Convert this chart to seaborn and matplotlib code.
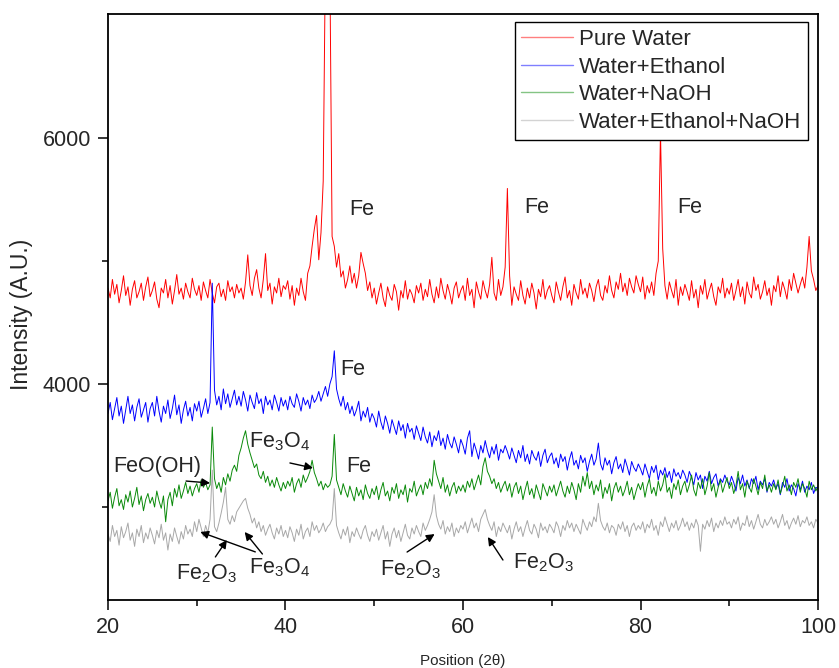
import numpy as np
import pandas as pd
import matplotlib.pyplot as plt
import seaborn as sns

# XRD scans, 2theta from 20 to 100 in 0.25 steps (321 points)
two_theta = np.linspace(20, 100, 321)

pure_water = [
    4780, 4700, 4850, 4730, 4810, 4660, 4760, 4880, 4720, 4790, 4640, 4770, 4840, 4700, 4750, 4820, 4680, 4790, 4870, 4710,
    4760, 4830, 4690, 4620, 4780, 4740, 4850, 4700, 4800, 4650, 4760, 4890, 4730, 4780, 4690, 4820, 4750, 4700, 4860, 4770,
    4720, 4800, 4680, 4830, 4760, 4700, 4850, 4740, 4660, 4790, 4820, 4710, 4770, 4680, 4840, 4750, 4790, 4700, 4810, 4740,
    4780, 4690, 4830, 5050, 4800, 4720, 4860, 4930, 4780, 4700, 4850, 5060, 4760, 4820, 4650, 4790, 4740, 4860, 4710, 4800,
    4770, 4840, 4690, 4800, 4640, 4780, 4720, 4860, 4750, 4680, 4900, 4960, 5120, 5260, 5370, 5010, 5230, 5650, 7500, 8600,
    7400, 5200, 5120, 4950, 5060, 4870, 4920, 4780, 4850, 4960, 4820, 4900, 4780, 4880, 5070, 4980, 4900, 4760, 4830, 4700,
    4780, 4650, 4740, 4820, 4700, 4630, 4790, 4720, 4680, 4810, 4750, 4600, 4760, 4700, 4840, 4690, 4770, 4730, 4660, 4800,
    4740, 4820, 4680, 4770, 4710, 4850, 4730, 4660, 4790, 4700, 4860, 4760, 4690, 4810, 4740, 4650, 4780, 4830, 4700, 4760,
    4800, 4680, 4860, 4720, 4770, 4620, 4830, 4750, 4690, 4840, 4760, 4700, 4810, 5030, 4740, 4680, 4850, 4720, 4790, 4950,
    5590, 4880, 4640, 4790, 4730, 4680, 4840, 4720, 4650, 4780, 4700, 4820, 4740, 4610, 4770, 4710, 4850, 4690, 4760, 4800,
    4720, 4660, 4830, 4750, 4680, 4790, 4870, 4700, 4760, 4640, 4810, 4740, 4690, 4850, 4730, 4780, 4700, 4820, 4760, 4670,
    4790, 4850, 4720, 4680, 4800, 4740, 4880, 4760, 4700, 4830, 4770, 4900, 4750, 4820, 4720, 4860, 4790, 4740, 4880, 4810,
    4750, 4870, 4690, 4800, 4740, 4830, 4720, 4900, 5000, 6050, 5100, 4800, 4690, 4830, 4760, 4700, 4850, 4640, 4790, 4720,
    4810, 4750, 4680, 4840, 4700, 4770, 4620, 4800, 4730, 4850, 4690, 4760, 4820, 4710, 4640, 4790, 4740, 4860, 4700, 4780,
    4730, 4820, 4680, 4760, 4850, 4710, 4790, 4650, 4830, 4740, 4700, 4870, 4760, 4810, 4690, 4750, 4840, 4720, 4780, 4640,
    4800, 4750, 4880, 4710, 4830, 4770, 4690, 4850, 4760, 4900, 4820, 4740, 4810, 4870, 4780, 4950, 5200, 4920, 4850, 4760,
    4800,
]

water_ethanol = [
    3760, 3850, 3710, 3800, 3890, 3740, 3820, 3680, 3790, 3900, 3760, 3830, 3700, 3810, 3880, 3730, 3790, 3850, 3690, 3800,
    3850, 3740, 3900, 3780, 3690, 3820, 3760, 3870, 3720, 3800, 3910, 3750, 3830, 3680, 3790, 3860, 3740, 3810, 3700, 3840,
    3780, 3860, 3730, 3800, 3880, 3760, 3850, 4820, 3950, 3830, 3900, 3790, 3960, 3840, 3920, 3810, 3880, 3950, 3830, 3900,
    3820, 3940, 3870, 3780, 3910, 3850, 3800, 3930, 3840, 3880, 3760, 3900, 3830, 3870, 3790, 3910, 3850, 3780, 3890, 3820,
    3870, 3790, 3900, 3840, 3810, 3920, 3860, 3780, 3890, 3830, 3870, 3800, 3910, 3850, 3880, 3940, 3860, 3920, 3980, 3900,
    4000, 4060, 4270, 3960, 3880, 3820, 3900, 3790, 3850, 3760, 3820, 3740, 3790, 3860, 3700, 3780, 3730, 3810, 3690, 3760,
    3720, 3650, 3780, 3690, 3630, 3740, 3680, 3600, 3710, 3650, 3590, 3700, 3620, 3670, 3560, 3680, 3610, 3640, 3550, 3660,
    3600, 3540, 3650, 3570, 3520, 3610, 3490, 3580, 3540, 3620, 3500, 3560, 3470, 3590, 3520, 3480, 3570, 3510, 3440, 3550,
    3500, 3430, 3560, 3620, 3410, 3520, 3460, 3390, 3500, 3440, 3540, 3460, 3400, 3490, 3430, 3510, 3380, 3470, 3440, 3500,
    3450, 3390, 3480, 3420, 3360, 3460, 3400, 3500, 3370, 3430, 3350, 3460, 3410, 3380, 3450, 3330, 3420, 3470, 3360, 3410,
    3440, 3350, 3400, 3320, 3430, 3370, 3410, 3300, 3390, 3450, 3340, 3380, 3310, 3420, 3360, 3400, 3290, 3370, 3430, 3340,
    3390, 3520, 3350, 3300, 3400, 3340, 3380, 3270, 3360, 3410, 3310, 3350, 3280, 3390, 3330, 3260, 3370, 3320, 3290, 3350,
    3310, 3260, 3350, 3290, 3230, 3330, 3280, 3340, 3220, 3300, 3260, 3320, 3240, 3290, 3200, 3310, 3250, 3280, 3230, 3300,
    3260, 3200, 3290, 3240, 3180, 3280, 3220, 3260, 3150, 3250, 3210, 3290, 3190, 3240, 3270, 3170, 3230, 3200, 3260, 3210,
    3180, 3250, 3200, 3130, 3240, 3190, 3260, 3170, 3220, 3150, 3230, 3190, 3250, 3140, 3210, 3180, 3230, 3120, 3200, 3170,
    3220, 3150, 3190, 3100, 3200, 3160, 3230, 3130, 3180, 3150, 3090, 3190, 3140, 3210, 3120, 3170, 3140, 3200, 3110, 3160,
    3150,
]

water_naoh = [
    3050, 3120, 2990, 3080, 3150, 3010, 3060, 2980, 3100, 3040, 3130, 3000, 3070, 3160, 3020, 3090, 2970, 3060, 3110, 3030,
    3080, 3000, 3130, 3050, 2990, 3090, 2880, 3060, 3120, 3010, 3150, 3080, 3180, 3070, 3130, 3200, 3110, 3170, 3090, 3150,
    3190, 3120, 3220, 3160, 3200, 3140, 3180, 3650, 3230, 3150, 3200, 3120, 3240, 3180, 3270, 3210, 3300, 3340, 3290, 3420,
    3480, 3560, 3620, 3510, 3440, 3380, 3320, 3350, 3260, 3230, 3290, 3200, 3250, 3170, 3220, 3160, 3240, 3180, 3130, 3200,
    3150, 3210, 3170, 3240, 3120, 3190, 3230, 3160, 3260, 3200, 3240, 3290, 3380, 3280, 3230, 3170, 3210, 3140, 3190, 3160,
    3180, 3250, 3590, 3220, 3160, 3100, 3190, 3130, 3080, 3170, 3110, 3050, 3160, 3090, 3140, 3060, 3180, 3110, 3070, 3150,
    3100, 3170, 3060, 3140, 3200, 3090, 3130, 3050, 3160, 3110, 3190, 3070, 3140, 3100, 3180, 3040, 3150, 3120, 3210, 3090,
    3140, 3180, 3100, 3200, 3150, 3230, 3170, 3380, 3270, 3210, 3150, 3240, 3120, 3180, 3090, 3160, 3200, 3110, 3170, 3130,
    3180, 3120, 3210, 3160, 3230, 3140, 3200, 3260, 3180, 3330, 3400, 3290, 3250, 3190, 3230, 3150, 3200, 3120, 3170, 3210,
    3130, 3190, 3080, 3160, 3200, 3110, 3170, 3060, 3140, 3210, 3100, 3150, 3070, 3180, 3120, 3060, 3190, 3140, 3090, 3170,
    3120, 3180, 3090, 3150, 3210, 3130, 3080, 3170, 3110, 3200, 3140, 3060, 3190, 3120, 3250, 3170, 3280, 3150, 3210, 3100,
    3180, 3130, 3220, 3070, 3160, 3110, 3190, 3050, 3150, 3200, 3120, 3170, 3090, 3140, 3210, 3100, 3160, 3060, 3130, 3190,
    3140, 3200, 3080, 3170, 3230, 3110, 3160, 3090, 3210, 3130, 3180, 3270, 3120, 3160, 3070, 3190, 3140, 3220, 3100, 3170,
    3210, 3120, 3180, 3260, 3140, 3090, 3200, 3150, 3230, 3100, 3170, 3280, 3130, 3190, 3080, 3160, 3220, 3120, 3180, 3240,
    3150, 3200, 3110, 3170, 3290, 3140, 3190, 3080, 3210, 3160, 3120, 3230, 3170, 3100, 3200, 3150, 3260, 3130, 3180, 3120,
    3190, 3140, 3220, 3110, 3170, 3250, 3130, 3180, 3100, 3200, 3160, 3230, 3120, 3190, 3150, 3080, 3210, 3140, 3180, 3130,
    3170,
]

water_ethanol_naoh = [
    2780, 2720, 2850, 2760, 2810, 2690, 2840, 2750, 2800, 2870, 2730, 2790, 2680, 2820, 2760, 2850, 2710, 2790, 2740, 2830,
    2770, 2700, 2810, 2750, 2860, 2730, 2790, 2650, 2780, 2720, 2830, 2760, 2700, 2800, 2740, 2850, 2780, 2820, 2760, 2880,
    2800, 2900, 2830, 2760, 2850, 2790, 2900, 3300, 2840, 2800, 2870, 2950, 3040, 3160, 2900, 2860, 2930, 2880, 2960, 2990,
    3020, 3050, 3070, 2990, 2940, 2870, 2910, 2830, 2880, 2800, 2850, 2770, 2820, 2860, 2790, 2740, 2830, 2780, 2850, 2760,
    2810, 2750, 2840, 2790, 2720, 2820, 2770, 2860, 2740, 2800, 2830, 2760, 2880, 2810, 2850, 2790, 2820, 2870, 2800, 2840,
    2860, 2900, 3150, 2850, 2790, 2740, 2820, 2770, 2840, 2710, 2800, 2760, 2830, 2780, 2740, 2810, 2850, 2770, 2720, 2800,
    2760, 2820, 2730, 2790, 2850, 2740, 2800, 2680, 2780, 2830, 2750, 2810, 2720, 2790, 2860, 2770, 2740, 2830, 2780, 2850,
    2800, 2760, 2870, 2810, 2850, 2900, 2960, 3100, 2930, 2860, 2820, 2890, 2780, 2840, 2800, 2870, 2760, 2830, 2790, 2850,
    2820, 2880, 2790, 2850, 2910, 2830, 2870, 2800, 2900, 2940, 2980, 2900, 2850, 2810, 2880, 2760, 2840, 2800, 2870, 2830,
    2790, 2850, 2740, 2820, 2880, 2800, 2840, 2760, 2830, 2890, 2810, 2780, 2860, 2820, 2750, 2870, 2810, 2840, 2790, 2860,
    2830, 2790, 2880, 2840, 2760, 2850, 2810, 2890, 2830, 2870, 2800, 2860, 2820, 2780, 2900, 2850, 2810, 2880, 2840, 2920,
    2880, 3030, 2890, 2840, 2810, 2870, 2790, 2850, 2830, 2770, 2860, 2820, 2880, 2800, 2850, 2760, 2840, 2870, 2810, 2850,
    2820, 2880, 2790, 2860, 2830, 2900, 2810, 2850, 2770, 2880, 2840, 2920, 2860, 2800, 2870, 2830, 2890, 2810, 2850, 2910,
    2840, 2880, 2810, 2870, 2830, 2900, 2850, 2640, 2860, 2820, 2890, 2840, 2910, 2800, 2870, 2830, 2890, 2850, 2920, 2860,
    2880, 2830, 2900, 2860, 2920, 2810, 2870, 2850, 2930, 2840, 2890, 2820, 2880, 2940, 2860, 2830, 2900, 2850, 2880, 2920,
    2860, 2900, 2830, 2880, 2940, 2850, 2890, 2820, 2870, 2910, 2860, 2930, 2840, 2890, 2870, 2920, 2850, 2880, 2830, 2900,
    2870,
]

samples = ['Pure Water', 'Water+Ethanol', 'Water+NaOH', 'Water+Ethanol+NaOH']
colors = ['#ff0000', '#0000ff', '#0a8a0a', '#a8a8a8']

df = pd.DataFrame({
    'Position': np.tile(two_theta, 4),
    'Intensity': pure_water + water_ethanol + water_naoh + water_ethanol_naoh,
    'Sample': np.repeat(samples, len(two_theta)),
})

sns.set_style("ticks")
plt.rcParams['font.family'] = ['Liberation Sans', 'DejaVu Sans']
plt.rcParams['mathtext.default'] = 'regular'

fig, ax = plt.subplots(figsize=(8.39, 6.68), dpi=100)
fig.subplots_adjust(left=0.1287, right=0.975, bottom=0.1018, top=0.979)

sns.lineplot(data=df, x='Position', y='Intensity', hue='Sample', hue_order=samples,
             palette=colors, estimator=None, sort=False, linewidth=0.7, ax=ax)

ax.set_xlim(20, 100)
ax.set_ylim(2244, 7008)
ax.set_xticks([20, 40, 60, 80, 100])
ax.set_xticks([30, 50, 70, 90], minor=True)
ax.set_yticks([4000, 6000])
ax.set_yticks([3000, 5000], minor=True)
ax.tick_params(which='major', direction='out', length=7, width=1.3, labelsize=15.5, pad=5)
ax.tick_params(which='minor', direction='out', length=4, width=1.3)
for s in ax.spines.values():
    s.set_linewidth(1.3)
    s.set_color('black')

ax.set_xlabel('Position (2\u03b8)', fontsize=11, labelpad=12)
ax.set_ylabel('Intensity (A.U.)', fontsize=16.5)
ax.yaxis.set_label_coords(-0.106, 0.488)

leg = ax.legend(loc='upper right', bbox_to_anchor=(0.986, 0.986), borderaxespad=0, fontsize=16,
                frameon=True, fancybox=False, edgecolor='black', framealpha=1,
                handlelength=2.3, borderpad=0.3, labelspacing=0.3, handletextpad=0.3)
leg.get_frame().set_linewidth(1.0)
for line in leg.get_lines():
    line.set_linewidth(1.0)
    line.set_alpha(0.5)

fs = 15.5
ap = dict(arrowstyle='-|>', color='black', lw=1, mutation_scale=12, shrinkA=0, shrinkB=0)
ax.text(48.6, 5415, 'Fe', fontsize=fs, ha='center', va='center')
ax.text(68.3, 5431, 'Fe', fontsize=fs, ha='center', va='center')
ax.text(85.6, 5439, 'Fe', fontsize=fs, ha='center', va='center')
ax.text(47.6, 4122, 'Fe', fontsize=fs, ha='center', va='center')
ax.text(48.2, 3333, 'Fe', fontsize=fs, ha='center', va='center')
ax.text(39.3, 3530, 'Fe$_3$O$_4$', fontsize=fs, ha='center', va='center')
ax.annotate('', xy=(43.1, 3317), xytext=(40.5, 3358), arrowprops=ap)
ax.text(25.6, 3333, 'FeO(OH)', fontsize=fs, ha='center', va='center')
ax.annotate('', xy=(31.5, 3195), xytext=(28.8, 3211), arrowprops=ap)
ax.text(31.1, 2455, 'Fe$_2$O$_3$', fontsize=fs, ha='center', va='center')
ax.annotate('', xy=(33.4, 2732), xytext=(32.1, 2594), arrowprops=ap)
ax.text(39.3, 2505, 'Fe$_3$O$_4$', fontsize=fs, ha='center', va='center')
ax.annotate('', xy=(30.4, 2797), xytext=(36.6, 2635), arrowprops=ap)
ax.annotate('', xy=(35.4, 2797), xytext=(37.4, 2618), arrowprops=ap)
ax.text(54.1, 2490, 'Fe$_2$O$_3$', fontsize=fs, ha='center', va='center')
ax.annotate('', xy=(56.8, 2780), xytext=(53.7, 2634), arrowprops=ap)
ax.text(69.1, 2545, 'Fe$_2$O$_3$', fontsize=fs, ha='center', va='center')
ax.annotate('', xy=(62.8, 2756), xytext=(64.5, 2569), arrowprops=ap)

fig.savefig('out.png', dpi=100)
